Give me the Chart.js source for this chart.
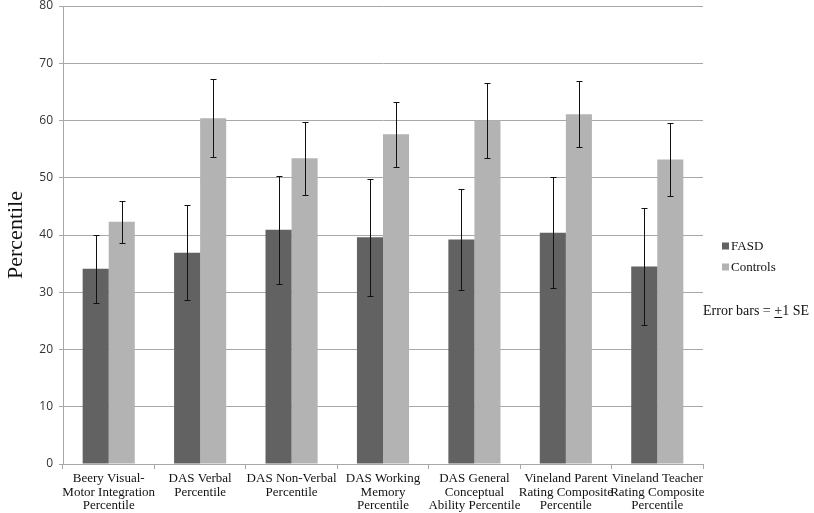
<!DOCTYPE html>
<html>
<head>
<meta charset="utf-8">
<script src="https://cdn.jsdelivr.net/npm/chart.js@4.4.1/dist/chart.umd.min.js"></script>
<style>
  html, body { margin: 0; padding: 0; background: #fff; }
  canvas { display: block; }
</style>
</head>
<body>
<canvas id="chart" width="814" height="513"></canvas>
<script>
// categories (multi-line labels as in the original)
const categories = [
    ['Beery Visual-', 'Motor Integration', 'Percentile'],
    ['DAS Verbal', 'Percentile'],
    ['DAS Non-Verbal', 'Percentile'],
    ['DAS Working', 'Memory', 'Percentile'],
    ['DAS General', 'Conceptual', 'Ability Percentile'],
    ['Vineland Parent', 'Rating Composite', 'Percentile'],
    ['Vineland Teacher', 'Rating Composite', 'Percentile']
];

// means
const fasd     = [34.1, 36.9, 40.9, 39.6, 39.2, 40.4, 34.5];
const controls = [42.3, 60.4, 53.4, 57.6, 60.0, 61.1, 53.2];

// standard errors (error bars = +/- 1 SE)
const fasdSE     = [5.9, 8.3, 9.4, 10.2, 8.8, 9.7, 10.3];
const controlsSE = [3.7, 6.8, 6.4, 5.7, 6.5, 5.8, 6.4];

const yTicks = [0, 10, 20, 30, 40, 50, 60, 70, 80];

const FASD_COLOR = '#626262';
const CTRL_COLOR = '#b3b3b3';
const GRID = '#a8a8a8';
const SERIF = '"Liberation Serif", "Times New Roman", serif';

// draws the +/- 1 SE whiskers on top of every bar
const errorBars = {
    id: 'errorBars',
    afterDatasetsDraw(chart) {
        const ctx = chart.ctx;
        const y = chart.scales.y;
        const seList = [fasdSE, controlsSE];
        ctx.save();
        ctx.strokeStyle = '#111';
        ctx.lineWidth = 1;
        chart.data.datasets.forEach((ds, i) => {
            chart.getDatasetMeta(i).data.forEach((bar, j) => {
                const x = Math.round(bar.x) + 0.5;
                const top = Math.round(y.getPixelForValue(ds.data[j] + seList[i][j])) + 0.5;
                const bot = Math.round(y.getPixelForValue(ds.data[j] - seList[i][j])) + 0.5;
                ctx.beginPath();
                ctx.moveTo(x, top);
                ctx.lineTo(x, bot);
                ctx.moveTo(x - 3, top);
                ctx.lineTo(x + 3, top);
                ctx.moveTo(x - 3, bot);
                ctx.lineTo(x + 3, bot);
                ctx.stroke();
            });
        });
        ctx.restore();
    }
};

// legend at the right plus the note about error bars
const sideNotes = {
    id: 'sideNotes',
    afterDraw(chart) {
        const ctx = chart.ctx;
        ctx.save();
        ctx.textBaseline = 'middle';
        ctx.font = '13px ' + SERIF;
        const rows = [['FASD', FASD_COLOR, 246], ['Controls', CTRL_COLOR, 267]];
        rows.forEach(r => {
            ctx.fillStyle = r[1];
            ctx.fillRect(722, r[2] - 3.5, 7, 7);
            ctx.fillStyle = '#111';
            ctx.fillText(r[0], 731, r[2] + 1);
        });

        ctx.font = '14px ' + SERIF;
        let x = 703;
        const yy = 311;
        const a = 'Error bars = ';
        ctx.fillText(a, x, yy);
        x += ctx.measureText(a).width;
        const plusW = ctx.measureText('+').width;
        ctx.fillText('+', x, yy);
        ctx.fillRect(x, yy + 6, plusW, 1);
        x += plusW;
        ctx.fillText('1 SE', x, yy);
        ctx.restore();
    }
};

new Chart(document.getElementById('chart'), {
    type: 'bar',
    data: {
        labels: categories,
        datasets: [
            { label: 'FASD', data: fasd, backgroundColor: FASD_COLOR },
            { label: 'Controls', data: controls, backgroundColor: CTRL_COLOR }
        ]
    },
    options: {
        responsive: false,
        animation: false,
        events: [],
        layout: { padding: { top: 6, right: 111, left: 0, bottom: 0 } },
        datasets: {
            bar: { categoryPercentage: 0.57, barPercentage: 1.0 }
        },
        plugins: {
            legend: { display: false },
            tooltip: { enabled: false }
        },
        scales: {
            x: {
                offset: true,
                grid: {
                    offset: true,
                    drawOnChartArea: false,
                    drawTicks: true,
                    tickLength: 5,
                    color: GRID
                },
                border: { display: true, color: GRID },
                ticks: {
                    autoSkip: false,
                    maxRotation: 0,
                    padding: 3,
                    color: '#111',
                    font: { family: SERIF, size: 13, lineHeight: 1.03 }
                },
                afterFit(scale) { scale.height = 49; }
            },
            y: {
                min: 0,
                max: 80,
                afterBuildTicks(scale) {
                    scale.ticks = yTicks.map(v => ({ value: v }));
                },
                grid: { color: GRID, tickLength: 4 },
                border: { display: true, color: GRID },
                ticks: {
                    padding: 6,
                    color: '#333',
                    font: { family: '"Open Sans", sans-serif', size: 12 }
                },
                title: {
                    display: true,
                    text: 'Percentile',
                    color: '#111',
                    padding: { top: 3, bottom: 0 },
                    font: { family: SERIF, size: 22 }
                },
                afterFit(scale) {
                    scale.width = 63;
                    scale.paddingTop = 0;
                    scale.paddingBottom = 0;
                }
            }
        }
    },
    plugins: [errorBars, sideNotes]
});
</script>
</body>
</html>
